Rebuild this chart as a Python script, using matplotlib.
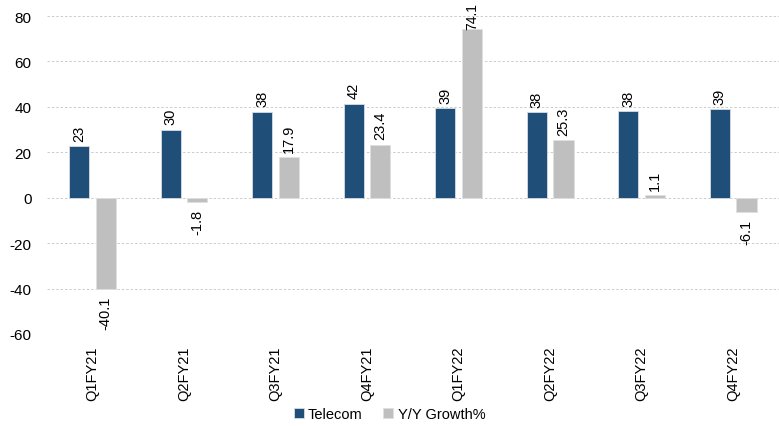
import numpy as np
import matplotlib.pyplot as plt

plt.rcParams['font.family'] = ['Liberation Sans', 'DejaVu Sans']
plt.rcParams['axes.unicode_minus'] = False

quarters = ["Q1FY21", "Q2FY21", "Q3FY21", "Q4FY21",
            "Q1FY22", "Q2FY22", "Q3FY22", "Q4FY22"]
telecom = [22.6, 30.0, 37.8, 41.5, 39.4, 37.6, 38.1, 39.0]
growth = [-40.1, -1.8, 17.9, 23.4, 74.1, 25.3, 1.1, -6.1]

blue = "#1f4e79"
grey = "#bfbfbf"

fig = plt.figure(figsize=(7.79, 4.27), dpi=100)
ax = fig.add_axes([0.060, 0.2155, 0.940, 0.7445])

x = np.arange(len(quarters))
w = 0.22
off = 0.145
b1 = ax.bar(x - off, telecom, w, color=blue, edgecolor="#d6dce5", linewidth=0.6,
            label="Telecom", zorder=3)
b2 = ax.bar(x + off, growth, w, color=grey, edgecolor="#e0e0e0", linewidth=0.6,
            label="Y/Y Growth%", zorder=3)

# value labels, rotated like the category labels
for xi, v in zip(x - off, telecom):
    ax.annotate(f"{v:.0f}", (xi, v), xytext=(0, 4), textcoords="offset points",
                rotation=90, ha="center", va="bottom", fontsize=10.5)
for xi, v in zip(x + off, growth):
    if v >= 0:
        # tall bars leave little room above, so hug the bar top
        dy = 4 if v < 70 else 0
        ax.annotate(f"{v:.1f}", (xi, v), xytext=(0, dy), textcoords="offset points",
                    rotation=90, ha="center", va="bottom",
                    fontsize=10.5 if v < 70 else 10)
    else:
        ax.annotate(f"{v:.1f}", (xi, v), xytext=(0, -5), textcoords="offset points",
                    rotation=90, ha="center", va="top", fontsize=10.5)

ax.set_xlim(-0.5, len(quarters) - 0.5)
ax.set_ylim(-60, 80)
ax.set_yticks(range(-60, 81, 20))
ax.set_xticks(x)
ax.set_xticklabels(quarters, rotation=90, fontsize=10.5)
ax.tick_params(axis="y", labelsize=11, length=0, pad=11)
ax.tick_params(axis="x", length=0, pad=8)

ax.yaxis.grid(True, color="#cccccc", linestyle=(0, (2.5, 2)), linewidth=0.7, zorder=0)
for s in ax.spines.values():
    s.set_visible(False)

fig.legend(handles=[b1, b2], loc="center", bbox_to_anchor=(0.5, 0.027), ncol=2,
           frameon=False, fontsize=10.5, handlelength=0.7, handleheight=0.7,
           handletextpad=0.3, columnspacing=1.4)

fig.savefig("out.png", dpi=100)
